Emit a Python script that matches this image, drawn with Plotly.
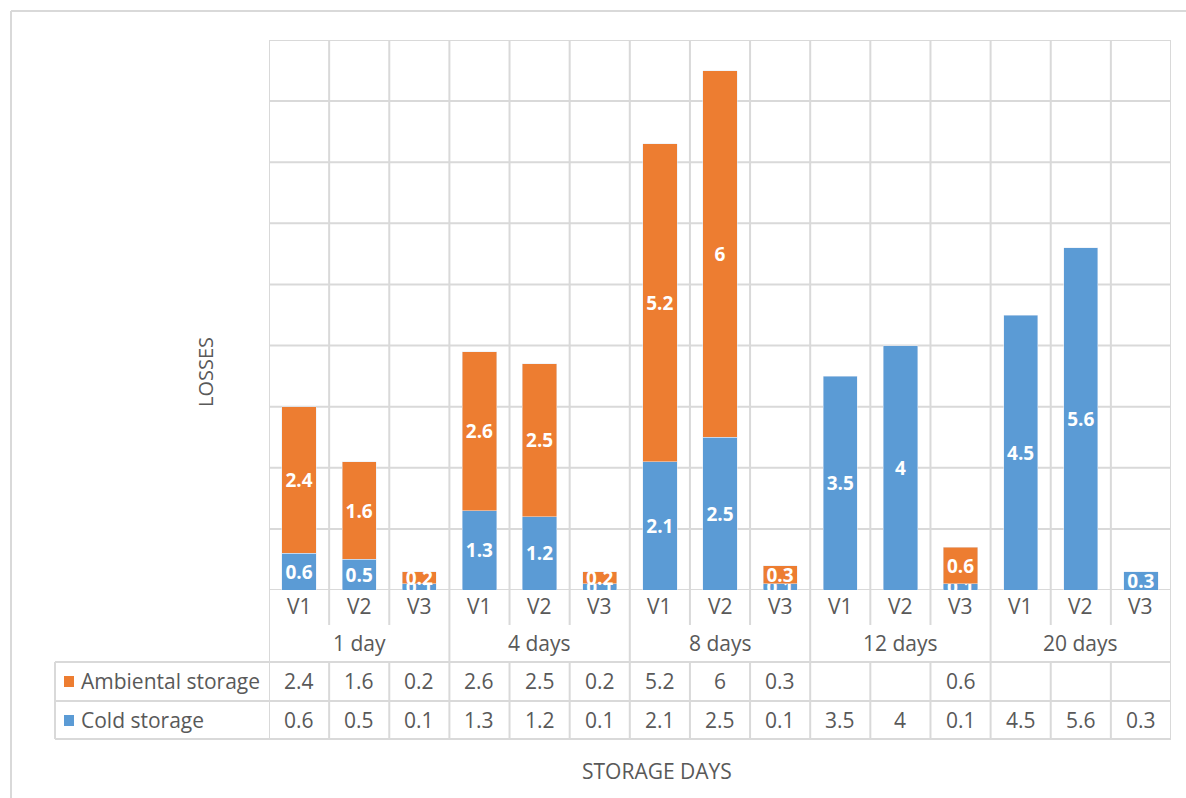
import plotly.graph_objects as go

days = ["1 day", "4 days", "8 days", "12 days", "20 days"]
varieties = ["V1", "V2", "V3"]
cold = [0.6, 0.5, 0.1, 1.3, 1.2, 0.1, 2.1, 2.5, 0.1, 3.5, 4, 0.1, 4.5, 5.6, 0.3]
ambient = [2.4, 1.6, 0.2, 2.6, 2.5, 0.2, 5.2, 6, 0.3, None, None, 0.6, None, None, None]
series_names = ["Ambiental storage", "Cold storage"]
y_ticks = list(range(0, 10))

W, H = 1186, 798
L, R, T, B = 269, 1171, 40, 590
ORANGE = "#ED7D31"
BLUE = "#5B9BD5"
GRID = "#D9D9D9"
TXT = "#595959"
FONT = "Open Sans"

def py(p):
    return (B - p) / (B - T)

def px(p):
    return (p - L) / (R - L)

n = len(cold)
xs = list(range(n))

def fmt(v):
    if v is None:
        return ""
    return ("%g" % v)

lblfont = dict(color="white", size=19, family=FONT, weight="bold")
fig = go.Figure()
fig.add_trace(go.Bar(x=xs, y=cold, name=series_names[1], marker_color=BLUE,
                     text=[fmt(v) for v in cold], textposition="inside",
                     insidetextanchor="middle", constraintext="none",
                     textfont=lblfont, cliponaxis=False))
fig.add_trace(go.Bar(x=xs, y=ambient, name=series_names[0], marker_color=ORANGE,
                     text=[fmt(v) for v in ambient], textposition="inside",
                     insidetextanchor="middle", constraintext="none",
                     textfont=lblfont, cliponaxis=False))

shapes = []
for t in y_ticks:
    shapes.append(dict(type="line", xref="paper", yref="y", x0=0, x1=1, y0=t, y1=t,
                       line=dict(color=GRID, width=2), layer="below"))
for i in range(n + 1):
    xb = i - 0.5
    if i % 3 == 0:
        shapes.append(dict(type="line", xref="x", yref="paper", x0=xb, x1=xb,
                           y0=1, y1=py(739), line=dict(color=GRID, width=2), layer="below"))
    else:
        shapes.append(dict(type="line", xref="x", yref="paper", x0=xb, x1=xb,
                           y0=1, y1=py(625), line=dict(color=GRID, width=2), layer="below"))
        shapes.append(dict(type="line", xref="x", yref="paper", x0=xb, x1=xb,
                           y0=py(662), y1=py(739), line=dict(color=GRID, width=2), layer="below"))
for yy in (662, 701, 739):
    shapes.append(dict(type="line", xref="paper", yref="paper", x0=px(55), x1=1,
                       y0=py(yy), y1=py(yy), line=dict(color=GRID, width=2)))
shapes.append(dict(type="line", xref="paper", yref="paper", x0=px(55), x1=px(55),
                   y0=py(662), y1=py(739), line=dict(color=GRID, width=2)))
shapes.append(dict(type="rect", xref="paper", yref="paper", x0=px(64), x1=px(74),
                   y0=py(687), y1=py(676), fillcolor=ORANGE, line=dict(width=0)))
shapes.append(dict(type="rect", xref="paper", yref="paper", x0=px(64), x1=px(74),
                   y0=py(726), y1=py(715), fillcolor=BLUE, line=dict(width=0)))
shapes.append(dict(type="line", xref="paper", yref="paper", x0=px(11), x1=px(1190),
                   y0=py(11), y1=py(11), line=dict(color=GRID, width=2)))
shapes.append(dict(type="line", xref="paper", yref="paper", x0=px(11), x1=px(11),
                   y0=py(11), y1=py(800), line=dict(color=GRID, width=2)))

ann = []
tf = dict(family=FONT, size=21, color=TXT)
for i in range(n):
    ann.append(dict(x=i, y=py(606), xref="x", yref="paper", text=varieties[i % 3],
                    showarrow=False, font=tf, xanchor="center", yanchor="middle"))
    ann.append(dict(x=i, y=py(681), xref="x", yref="paper", text=fmt(ambient[i]),
                    showarrow=False, font=tf, xanchor="center", yanchor="middle"))
    ann.append(dict(x=i, y=py(720), xref="x", yref="paper", text=fmt(cold[i]),
                    showarrow=False, font=tf, xanchor="center", yanchor="middle"))
for g, d in enumerate(days):
    ann.append(dict(x=3 * g + 1, y=py(643), xref="x", yref="paper", text=d,
                    showarrow=False, font=tf, xanchor="center", yanchor="middle"))
ann.append(dict(x=px(79), y=py(681), xref="paper", yref="paper", text=series_names[0],
                showarrow=False, font=tf, xanchor="left", yanchor="middle"))
ann.append(dict(x=px(79), y=py(720), xref="paper", yref="paper", text=series_names[1],
                showarrow=False, font=tf, xanchor="left", yanchor="middle"))
ann.append(dict(x=px(205), y=py(372), xref="paper", yref="paper", text="LOSSES",
                showarrow=False, font=dict(family=FONT, size=20, color=TXT), textangle=-90,
                xanchor="center", yanchor="middle"))
ann.append(dict(x=px(657), y=py(771), xref="paper", yref="paper", text="STORAGE DAYS",
                showarrow=False, font=dict(family=FONT, size=21, color=TXT),
                xanchor="center", yanchor="middle"))

fig.update_layout(
    width=W, height=H,
    margin=dict(l=L, r=W - R, t=T, b=H - B),
    barmode="stack", bargap=0.43,
    showlegend=False,
    plot_bgcolor="white", paper_bgcolor="white",
    xaxis=dict(range=[-0.5, n - 0.5], showgrid=False, zeroline=False,
               showticklabels=False, ticks="", showline=False),
    yaxis=dict(range=[0, 9], showgrid=False, zeroline=False,
               showticklabels=False, ticks="", showline=False),
    shapes=shapes, annotations=ann,
    font=dict(family=FONT, color=TXT),
)

fig.write_html("out.html")
